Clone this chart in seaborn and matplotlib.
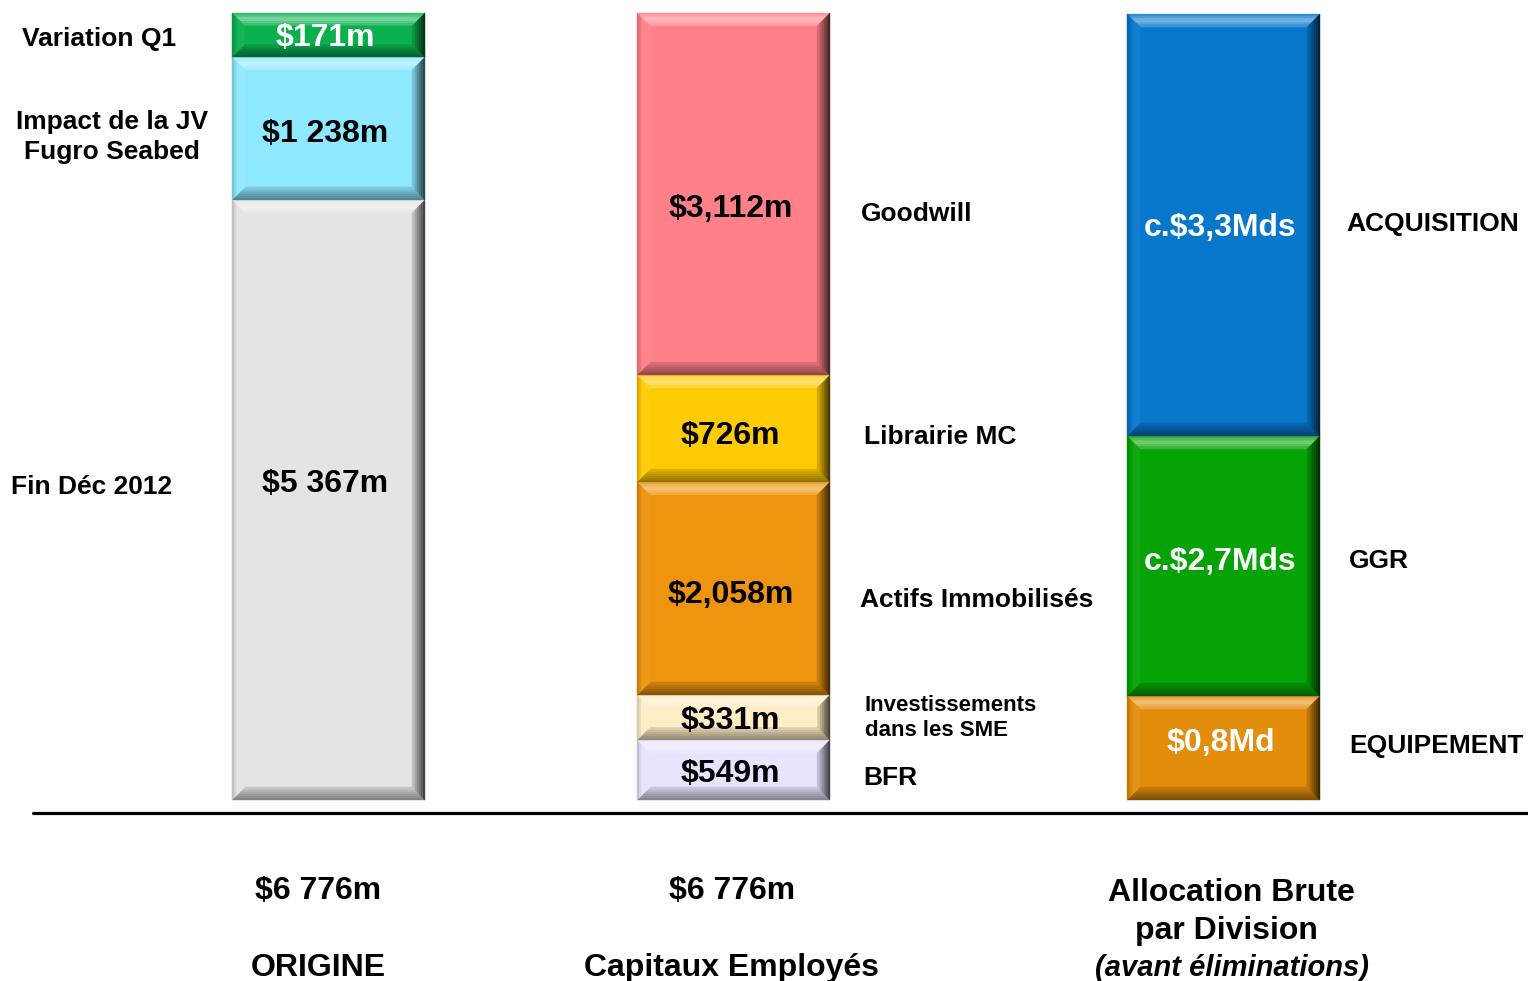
import matplotlib
matplotlib.use("Agg")
import matplotlib.pyplot as plt
import matplotlib.colors as mcolors
from matplotlib.patches import Polygon
import seaborn as sns
import pandas as pd

# Données (hauteurs, le dessin n'est pas à l'échelle)
colonnes = ["ORIGINE", "Capitaux Employés", "Allocation Brute"]

origine_hauteurs = [5166, 1231, 379]
origine_labels = ["$5 367m", "$1 238m", "$171m"]
origine_couleurs = ["#e4e4e4", "#8ee8ff", "#0bb04e"]
origine_txt = ["black", "black", "white"]

capitaux_hauteurs = [517, 387, 1834, 921, 3117]
capitaux_labels = ["$549m", "$331m", "$2,058m", "$726m", "$3,112m"]
capitaux_couleurs = ["#e9e3ff", "#ffedc6", "#ee940e", "#ffcb04", "#ff8088"]
capitaux_txt = ["black"] * 5

division_hauteurs = [895, 2239, 3633]
division_labels = ["$0,8Md", "c.$2,7Mds", "c.$3,3Mds"]
division_couleurs = ["#e28d0b", "#05a305", "#0777cc"]
division_txt = ["white"] * 3

totaux = ["$6 776m", "$6 776m"]

# Mise en page (pixels de la figure)
W, H = 1528, 981
BASE_PX, TOP_PX = 800, 13
K = 6776 / (BASE_PX - TOP_PX)  # $m par pixel
centres_x = [328.5, 733.5, 1223.5]
largeur = 193
DY_TXT = 3  # correction de l'alignement vertical du texte


def ypx(p):
    return (BASE_PX - p - DY_TXT) * K


rows = []
for i, (hs, labs, cols, tcs) in enumerate(
    [
        (origine_hauteurs, origine_labels, origine_couleurs, origine_txt),
        (capitaux_hauteurs, capitaux_labels, capitaux_couleurs, capitaux_txt),
        (division_hauteurs, division_labels, division_couleurs, division_txt),
    ]
):
    bas = 0
    for h, lab, c, tc in zip(hs, labs, cols, tcs):
        rows.append(
            dict(colonne=colonnes[i], x=centres_x[i], bas=bas, hauteur=h,
                 label=lab, couleur=c, texte=tc)
        )
        bas += h
df = pd.DataFrame(rows)

sns.set_theme(style="white")
plt.rcParams["font.family"] = ["Liberation Sans", "DejaVu Sans"]
plt.rcParams["font.weight"] = "bold"
plt.rcParams["text.color"] = "black"

fig = plt.figure(figsize=(W / 100, H / 100), dpi=100)
ax = fig.add_axes([0, 0, 1, 1])

for _, r in df.iterrows():
    sns.barplot(
        x=[r["x"]], y=[r["hauteur"]], bottom=r["bas"], native_scale=True,
        width=largeur, color=r["couleur"], saturation=1, errorbar=None,
        linewidth=0, ax=ax,
    )

ax.set_xlim(0, W)
ax.set_ylim((BASE_PX - H) * K, BASE_PX * K)
ax.axis("off")


# Effet biseauté sur chaque segment (dégradé en quelques bandes)
def melange(c, t):
    a = mcolors.to_rgb(c)
    b = (1, 1, 1) if t > 0 else (0, 0, 0)
    t = abs(t)
    return tuple(a[j] * (1 - t) + b[j] * t for j in range(3))


# (côté, teinte au bord extérieur, teinte au bord intérieur) ; >0 = plus clair
biseaux = {
    "haut": [0.1, 0.5, 0.15],
    "bas": [-0.45, -0.3, -0.1],
    "gauche": [-0.2, 0.05, 0.05],
    "droite": [-0.75, -0.45, -0.1],
}
N_BANDES = 6

for p in list(ax.patches):
    x0, y0 = p.get_x(), p.get_y()
    w, h = p.get_width(), p.get_height()
    x1, y1 = x0 + w, y0 + h
    c = p.get_facecolor()
    by = min(13 * K, h * 0.28)
    bx = by / K
    for j in range(N_BANDES):
        a0, a1 = j / N_BANDES, (j + 1) / N_BANDES
        for cote, teintes in biseaux.items():
            u = (a0 + a1) / 2 * (len(teintes) - 1)
            k = min(int(u), len(teintes) - 2)
            t = teintes[k] + (teintes[k + 1] - teintes[k]) * (u - k)
            if cote == "haut":
                pts = [(x0 + a0 * bx, y1 - a0 * by), (x1 - a0 * bx, y1 - a0 * by),
                       (x1 - a1 * bx, y1 - a1 * by), (x0 + a1 * bx, y1 - a1 * by)]
            elif cote == "bas":
                pts = [(x0 + a0 * bx, y0 + a0 * by), (x1 - a0 * bx, y0 + a0 * by),
                       (x1 - a1 * bx, y0 + a1 * by), (x0 + a1 * bx, y0 + a1 * by)]
            elif cote == "gauche":
                pts = [(x0 + a0 * bx, y0 + a0 * by), (x0 + a0 * bx, y1 - a0 * by),
                       (x0 + a1 * bx, y1 - a1 * by), (x0 + a1 * bx, y0 + a1 * by)]
            else:
                pts = [(x1 - a0 * bx, y0 + a0 * by), (x1 - a0 * bx, y1 - a0 * by),
                       (x1 - a1 * bx, y1 - a1 * by), (x1 - a1 * bx, y0 + a1 * by)]
            ax.add_patch(Polygon(pts, closed=True, facecolor=melange(c, t),
                                 edgecolor=melange(c, t), lw=0.3))

# Valeurs dans les barres (décalage vertical en pixels, + = vers le bas)
label_dy = {"$5 367m": -19, "$3,112m": 12, "c.$2,7Mds": -7, "$549m": 1,
            "$1 238m": 2, "$726m": 4, "$2,058m": 4, "$331m": 1, "$0,8Md": -8}
for _, r in df.iterrows():
    y = r["bas"] + r["hauteur"] / 2 - (label_dy.get(r["label"], 0) + DY_TXT) * K
    ax.text(r["x"] - 3, y, r["label"], ha="center", va="center",
            fontsize=23, fontweight="bold", color=r["texte"])

# Ligne de base
ax.plot([33, W], [(BASE_PX - 812.5) * K] * 2, color="black", lw=2.3)

# Libellés latéraux
cotes = [
    (22, 36, "Variation Q1", 19, "left"),
    (16, 134, "Impact de la JV\nFugro Seabed", 19, "center"),
    (11, 484, "Fin Déc 2012", 19, "left"),
    (861, 211, "Goodwill", 19, "left"),
    (864, 434, "Librairie MC", 19, "left"),
    (860, 597, "Actifs Immobilisés", 19, "left"),
    (865, 715, "Investissements\ndans les SME", 16, "left"),
    (863, 775, "BFR", 19, "left"),
    (1346, 221, "ACQUISITION", 19, "left"),
    (1349, 558, "GGR", 19, "left"),
    (1349, 743, "EQUIPEMENT", 19, "left"),
]
for x, y, t, fs, al in cotes:
    ax.text(x, ypx(y), t, ha="left", va="center", fontsize=fs,
            fontweight="bold", multialignment=al, linespacing=1.3)

# Titres sous l'axe
ax.text(318, ypx(888), totaux[0], ha="center", va="center", fontsize=23, fontweight="bold")
ax.text(318, ypx(965), colonnes[0], ha="center", va="center", fontsize=23, fontweight="bold")
ax.text(732, ypx(888), totaux[1], ha="center", va="center", fontsize=23, fontweight="bold")
ax.text(732, ypx(965), colonnes[1], ha="center", va="center", fontsize=23, fontweight="bold")
ax.text(1231, ypx(890), colonnes[2], ha="center", va="center", fontsize=23, fontweight="bold")
ax.text(1226, ypx(928), "par Division", ha="center", va="center", fontsize=23, fontweight="bold")
ax.text(1232, ypx(965), "(avant éliminations)", ha="center", va="center", fontsize=21,
        fontweight="bold", fontstyle="italic")

fig.savefig("out.png", dpi=100)
